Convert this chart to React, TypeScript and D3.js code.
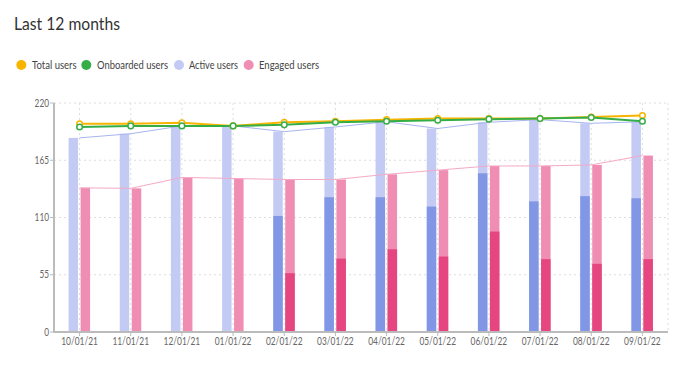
import React from "react";
import * as d3 from "d3";

const months = ["10/01/21", "11/01/21", "12/01/21", "01/01/22", "02/01/22", "03/01/22", "04/01/22", "05/01/22", "06/01/22", "07/01/22", "08/01/22", "09/01/22"];
const totalUsers = [200, 200, 201, 198, 201.5, 202.5, 204, 205, 205, 205, 206.5, 208];
const onboardedUsers = [197, 198, 198, 198, 199, 201.5, 202.5, 203.5, 204.5, 205, 206, 202.5];
const activeUsers = [186.5, 190.5, 198, 198, 192.5, 197, 202, 195.5, 201.5, 204, 200.5, 202];
const activeUsersDark = [0, 0, 0, 0, 111.5, 129.5, 129.5, 120.5, 152.5, 125.5, 130.5, 128.5];
const engagedUsers = [138.5, 138, 148.5, 147.5, 146.5, 146.5, 151.5, 155.5, 159.5, 159.5, 160.5, 169.5];
const engagedUsersDark = [0, 0, 0, 0, 56.5, 70.5, 79.5, 72.5, 96.5, 70, 65.5, 70];
const yTicks = [0, 55, 110, 165, 220];

const legend = [
  { label: "Total users", color: "#f7b500", x: 21.3, tx: 32, w: 44.7 },
  { label: "Onboarded users", color: "#36ae48", x: 86.3, tx: 97, w: 71 },
  { label: "Active users", color: "#c3cbf4", x: 179, tx: 189, w: 49 },
  { label: "Engaged users", color: "#f08db2", x: 248.7, tx: 259, w: 60 },
];

const font = "'Source Sans Pro', Lato, sans-serif";

const App = () => {
  const width = 688;
  const height = 369;
  const left = 54;
  const right = 668;
  const top = 103;
  const bottom = 332;

  const x = d3.scaleBand().domain(months).range([left, right]);
  const y = d3.scaleLinear().domain([0, 220]).range([bottom, top]);
  const cx = (m: string) => (x(m) as number) + x.bandwidth() / 2;
  const barW = 9.5;

  const line = d3
    .line<number>()
    .x((_, i) => cx(months[i]))
    .y((d) => y(d));

  return (
    <div style={{ position: "absolute", left: 0, top: 0 }}>
      <svg width={width} height={height} style={{ display: "block", fontFamily: font }}>
        <rect width={width} height={height} fill="#fff" />
        <text x={14} y={30} fontSize={17.5} fill="#333" textLength={106} lengthAdjust="spacingAndGlyphs">
          Last 12 months
        </text>
        {legend.map((l) => (
          <g key={l.label}>
            <circle cx={l.x} cy={65} r={5} fill={l.color} />
            <text x={l.tx} y={68.5} fontSize={11.5} fill="#444" textLength={l.w} lengthAdjust="spacingAndGlyphs">
              {l.label}
            </text>
          </g>
        ))}

        {/* grid */}
        {yTicks.slice(1).map((t) => (
          <line key={t} x1={left} x2={right} y1={y(t)} y2={y(t)} stroke="#ddd" strokeDasharray="2,3" />
        ))}
        {months.map((m) => (
          <line key={m} x1={cx(m)} x2={cx(m)} y1={top} y2={bottom} stroke="#ddd" strokeDasharray="2,3" />
        ))}
        <line x1={right} x2={right} y1={top} y2={bottom} stroke="#ddd" strokeDasharray="2,3" />

        {/* bars */}
        {months.map((m, i) => (
          <g key={m}>
            <rect x={cx(m) - 11} width={barW} y={y(activeUsers[i])} height={bottom - y(activeUsers[i])} fill="#c3cbf4" />
            <rect x={cx(m) - 11} width={barW} y={y(activeUsersDark[i])} height={bottom - y(activeUsersDark[i])} fill="#8197e6" />
            <rect x={cx(m) + 1} width={barW} y={y(engagedUsers[i])} height={bottom - y(engagedUsers[i])} fill="#f08db2" />
            <rect x={cx(m) + 1} width={barW} y={y(engagedUsersDark[i])} height={bottom - y(engagedUsersDark[i])} fill="#e6467f" />
          </g>
        ))}

        {/* lines */}
        <path d={line(engagedUsers) as string} fill="none" stroke="#f5a9c5" strokeWidth={1} />
        <path d={line(activeUsers) as string} fill="none" stroke="#a8b5ef" strokeWidth={1} />
        <path d={line(totalUsers) as string} fill="none" stroke="#f7b500" strokeWidth={2} />
        <path d={line(onboardedUsers) as string} fill="none" stroke="#36ae48" strokeWidth={2} />
        {months.map((m, i) => (
          <circle key={"t" + m} cx={cx(m)} cy={y(totalUsers[i])} r={2.8} fill="#fff" stroke="#f7b500" strokeWidth={1.5} />
        ))}
        {months.map((m, i) => (
          <circle key={"o" + m} cx={cx(m)} cy={y(onboardedUsers[i])} r={2.8} fill="#fff" stroke="#36ae48" strokeWidth={1.5} />
        ))}

        {/* axes */}
        <line x1={left} x2={left} y1={top} y2={bottom + 1} stroke="#bbb" strokeWidth={2} />
        <line x1={left - 1} x2={right} y1={bottom} y2={bottom} stroke="#bbb" strokeWidth={2} />
        {yTicks.map((t) => (
          <g key={t}>
            <line x1={left - 4} x2={left} y1={y(t)} y2={y(t)} stroke="#bbb" />
            <text x={left - 5} y={y(t) + 3.5} textAnchor="end" fontSize={11} fill="#666" textLength={String(t).length * 4.8} lengthAdjust="spacingAndGlyphs">
              {t}
            </text>
          </g>
        ))}
        {months.map((m) => (
          <g key={"x" + m}>
            <line x1={cx(m)} x2={cx(m)} y1={bottom} y2={bottom + 4} stroke="#bbb" />
            <text x={cx(m) - 18.3} y={bottom + 12.5} fontSize={11} fill="#666" textLength={36.6} lengthAdjust="spacingAndGlyphs">
              {m}
            </text>
          </g>
        ))}
      </svg>
    </div>
  );
};

export default App;
